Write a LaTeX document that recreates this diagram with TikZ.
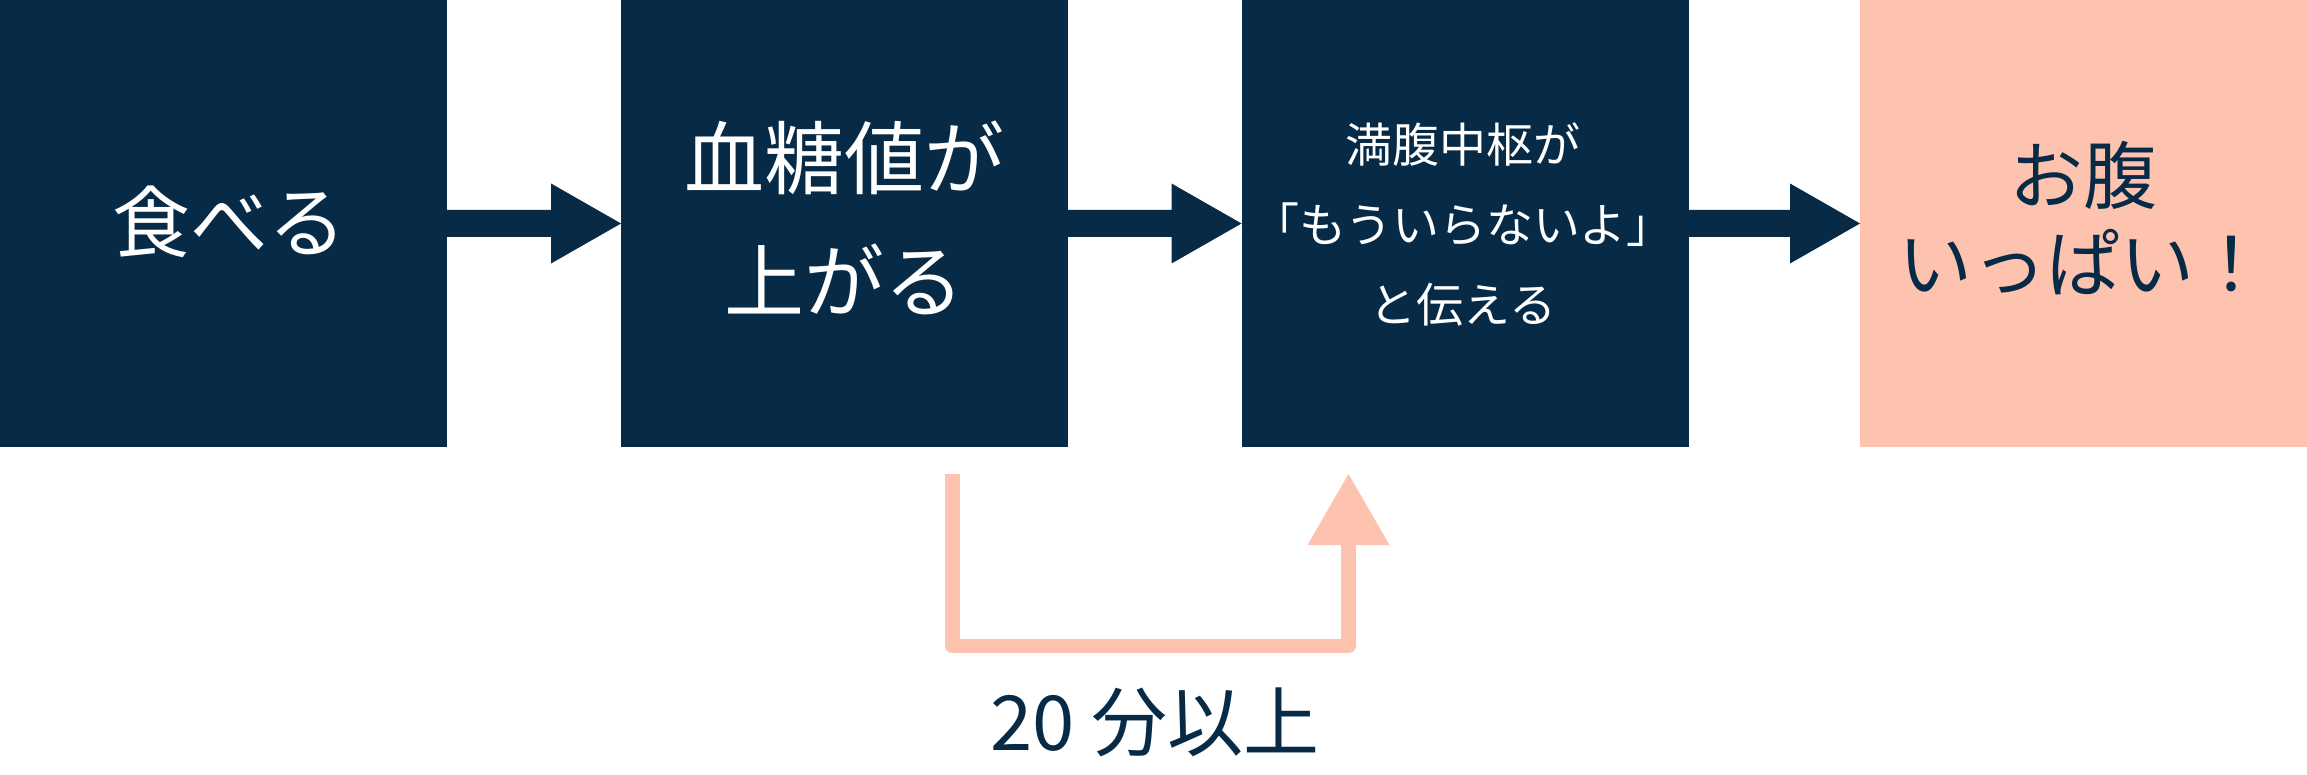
\documentclass[tikz,border=0pt]{standalone}
\usepackage{fontspec}
\setmainfont{Noto Sans CJK JP}
\usetikzlibrary{calc}
\definecolor{navy}{HTML}{072B47}
\definecolor{peach}{HTML}{FEC3AF}
\begin{document}
\begin{tikzpicture}[x=1pt,y=-1pt,
  box/.style={minimum width=447pt,minimum height=447pt,inner sep=0pt,outer sep=0pt,align=center},
  navybox/.style={box,fill=navy,text=white},
  peachbox/.style={box,fill=peach,text=navy},
  delay/.style={draw=peach,line width=14.5pt,line join=round}]
\useasboundingbox (0,0) rectangle (2307,775);
\node[navybox] (b1) at (223.5,223.5) {};
\node[navybox] (b2) at (844.5,223.5) {};
\node[navybox] (b3) at (1465,223.5) {};
\node[peachbox] (b4) at (2083.5,223.5) {};
\node[text=white,align=center,font=\fontsize{78}{90}\selectfont] (t1) at ($(b1.center)+(6,-2)$) {食べる};
\node[text=white,align=center,font=\fontsize{80}{123}\selectfont] (t2) at ($(b2.center)+(0,-6)$) {血糖値が\\上がる};
\node[text=white,align=center,font=\fontsize{47}{80}\selectfont] (t3) at ($(b3.center)+(-2,1)$) {満腹中枢が\\「もういらないよ」\\と伝える};
\node[text=navy,align=center,font=\fontsize{74}{88}\selectfont] (t4) at ($(b4.center)+(0,-5)$) {お腹\\いっぱい！};
\foreach \a/\b in {b1/b2,b2/b3,b3/b4}{
  \fill[navy] ($(\a.east)+(0,-13.5)$) -- ($(\b.west)+(-70,-13.5)$) -- ($(\b.west)+(-70,-40)$) -- (\b.west) -- ($(\b.west)+(-70,40)$) -- ($(\b.west)+(-70,13.5)$) -- ($(\a.east)+(0,13.5)$) -- cycle;
}
\coordinate (d0) at (952.5,474);
\coordinate (d1) at (1348.5,474);
\draw[delay] (d0) -- (d0 |- 0,646) -- (d1 |- 0,646) -- ($(d1)+(0,70)$);
\fill[peach] (d1) -- ++(41,71) -- ++(-82,0) -- cycle;
\node[text=navy,font=\fontsize{76}{80}\selectfont] (lbl) at (1155,722) {20 分以上};
\end{tikzpicture}
\end{document}
